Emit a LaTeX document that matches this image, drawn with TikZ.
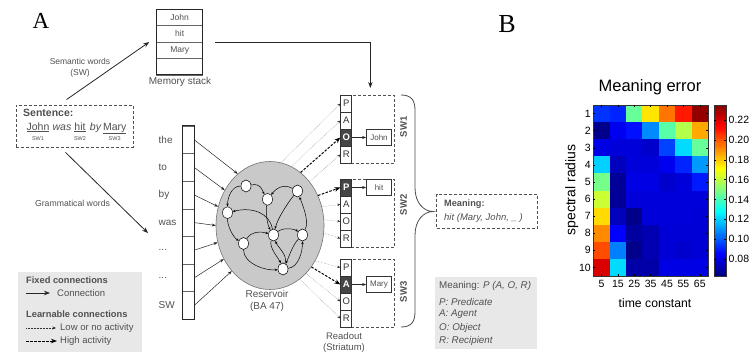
\documentclass[tikz,border=0pt]{standalone}
\usepackage{fontspec}
\setmainfont{Liberation Sans}
\newfontfamily\panelfont{Liberation Serif}
\usetikzlibrary{arrows.meta,shapes.geometric,calc}
\definecolor{txt}{HTML}{505050}
\definecolor{resfill}{HTML}{C9C9C9}
\definecolor{legbg}{HTML}{E8E8E8}
\definecolor{cellfill}{HTML}{454545}
\definecolor{lowact}{HTML}{9A9A9A}
\newcommand{\fsz}[1]{\fontsize{#1}{#1}\selectfont}
\newcommand{\setjet}[2]{%
  \pgfmathsetmacro\jetr{max(0,min(1,1.5-abs(4*(#2)-3)))}%
  \pgfmathsetmacro\jetg{max(0,min(1,1.5-abs(4*(#2)-2)))}%
  \pgfmathsetmacro\jetb{max(0,min(1,1.5-abs(4*(#2)-1)))}%
  \definecolor{#1}{rgb}{\jetr,\jetg,\jetb}}
\begin{document}
\begin{tikzpicture}[x=1pt,y=-1pt,
  lab/.style={text=txt, inner sep=0pt},
  dashbox/.style={draw=txt, line width=0.8pt, dash pattern=on 3pt off 2pt},
  conn/.style={-{Stealth[length=6pt,width=4.5pt]}, line width=0.8pt, black!85},
  thin conn/.style={-{Stealth[length=4pt,width=3pt]}, line width=0.5pt, black!85},
  inner edge/.style={-{Stealth[length=3pt,width=2.4pt]}, line width=0.5pt, black},
  low act/.style={-{Stealth[length=3.2pt,width=2.6pt,color=black!80]}, line width=0.5pt, lowact, densely dotted},
  high act/.style={-{Stealth[length=6pt,width=4.5pt]}, line width=1pt, black, dash pattern=on 2.5pt off 1.5pt},
  memcell/.style={draw=black!60, line width=0.5pt, minimum width=46pt, minimum height=16.4pt, inner sep=0pt, text=txt, font=\fsz{8.5}},
  wcell/.style={draw=black!60, line width=0.5pt, minimum width=11.7pt, minimum height=27.6pt, inner sep=0pt},
  wlab/.style={lab, anchor=west, font=\fsz{10}},
  rcell/.style={draw=black!80, line width=0.6pt, fill=white, minimum width=11pt, minimum height=17pt, inner sep=0pt, text=black!80, font=\fsz{9.5}},
  rdark/.style={rcell, fill=cellfill, text=white, font=\fsz{9.5}\bfseries},
  wbox/.style={draw=black!80, line width=0.7pt, fill=white, minimum width=25pt, minimum height=16pt, inner sep=0pt, text=txt, font=\fsz{8}},
  rnode/.style={ellipse, draw=black, line width=0.5pt, fill=white, minimum width=10pt, minimum height=12pt, inner sep=0pt},
  swlab/.style={lab, rotate=90, font=\fsz{9.5}\bfseries},
  leg/.style={lab, anchor=west, font=\fsz{9.5}},
  legr/.style={lab, anchor=west, font=\fsz{9.8}\itshape},
  hm/.style={inner sep=0pt, text=black, font=\fsz{10.5}},
]
\useasboundingbox (0,0) rectangle (751,353);

% ---------------- panel letters
\node[font=\panelfont\fsz{23}, inner sep=0pt] (pA) at (41,21) {A};
\node[font=\panelfont\fsz{26}, inner sep=0pt] (pB) at (507,24) {B};

% ---------------- legends (backgrounds)
\fill[legbg] (18,272) rectangle (142,352);
\fill[legbg] (435,277) rectangle (537,349);

% ---------------- memory stack
\node[memcell] (m1) at (179.7,17.4) {John};
\node[memcell] (m2) at (179.7,33.8) {hit};
\node[memcell] (m3) at (179.7,50.2) {Mary};
\node[memcell] (m4) at (179.7,66.6) {};
\node[draw=black!85, line width=0.9pt, minimum width=46pt, minimum height=65.6pt, inner sep=0pt] (mem) at (179.7,42) {};
\node[lab, font=\fsz{10}] (memlab) at (180,82) {Memory stack};

% ---------------- sentence
\node[dashbox, minimum width=117pt, minimum height=42pt, inner sep=0pt] (sent) at (74.5,126) {};
\node[lab, anchor=west, font=\fsz{10.5}\bfseries] (senttitle) at (23,113) {Sentence:};
\node[lab, anchor=base, font=\fsz{10.5}] (wJohn) at (38,130) {\underline{John}};
\node[lab, anchor=base, font=\fsz{10.5}\itshape] (wwas) at (62,130) {was};
\node[lab, anchor=base, font=\fsz{10.5}] (whit) at (80,130) {\underline{hit}};
\node[lab, anchor=base, font=\fsz{10.5}\itshape] (wby) at (95.5,130) {by};
\node[lab, anchor=base, font=\fsz{10.5}] (wMary) at (114.7,130) {\underline{Mary}};
\node[lab, font=\fsz{5.5}] (sw1s) at (38,138.5) {SW1};
\node[lab, font=\fsz{5.5}] (sw2s) at (80,138.5) {SW2};
\node[lab, font=\fsz{5.5}] (sw3s) at (114.7,138.5) {SW3};

% ---------------- words column
\node[wcell] (w1) at (188.15,139.8) {};
\node[wcell] (w2) at (188.15,167.4) {};
\node[wcell] (w3) at (188.15,195.0) {};
\node[wcell] (w4) at (188.15,222.6) {};
\node[wcell] (w5) at (188.15,250.2) {};
\node[wcell] (w6) at (188.15,277.8) {};
\node[wcell] (w7) at (188.15,305.4) {};
\draw[black!85, line width=0.9pt] (w1.north west) rectangle (w7.south east);
\node[wlab] (l1) at (158.5,139.8) {the};
\node[wlab] (l2) at (158.5,167.4) {to};
\node[wlab] (l3) at (158.5,195.0) {by};
\node[wlab] (l4) at (158.5,222.6) {was};
\node[wlab] (l5) at (158.5,250.2) {...};
\node[wlab] (l6) at (158.5,277.8) {...};
\node[wlab] (l7) at (158.5,305.4) {SW};

% sentence arrows
\draw[conn] ([xshift=-8pt,yshift=5pt]sent.north) -- ([xshift=-7pt]mem.west);
\node[lab, font=\fontsize{8.5}{10.5}\selectfont, align=center] (semlab) at (80,68) {Semantic words\\(SW)};
\draw[conn] ([xshift=-9pt,yshift=-5pt]sent.south) -- ([xshift=-34pt,yshift=-10.5pt]w4.west);
\node[lab, font=\fsz{8.7}] (gramlab) at (72.5,203.5) {Grammatical words};

% ---------------- reservoir
\node[ellipse, draw=black!55, line width=0.6pt, fill=resfill, minimum width=108pt, minimum height=128pt, inner sep=0pt] (res) at (270,225.5) {};
\node[lab, font=\fsz{10}] (reslab1) at (267,294) {Reservoir};
\node[lab, font=\fsz{10}] (reslab2) at (267,307) {(BA 47)};

\node[rnode] (r1) at (246,186) {};
\node[rnode] (r2) at (267.5,199.3) {};
\node[rnode] (r3) at (297.5,191) {};
\node[rnode] (r4) at (227.5,212.7) {};
\node[rnode] (r5) at (273.5,235) {};
\node[rnode] (r6) at (302.5,235) {};
\node[rnode] (r7) at (243.5,243.5) {};
\node[rnode] (r8) at (283,269) {};

\draw[inner edge] (r1) .. controls +(15,-3) and +(-6,-10) .. (r2);
\draw[inner edge] (r3) .. controls +(-15,-8) and +(8,-10) .. (r2);
\draw[inner edge] (r1) .. controls +(-15,0) and +(0,-14) .. (r4);
\draw[inner edge] (r5) .. controls +(-4,-22) and +(25,-6) .. (r4);
\draw[inner edge] (r4) .. controls +(0,14) and +(-10,-6) .. (r7);
\draw[inner edge] (r7) .. controls +(8,-12) and +(-14,-4) .. (r5);
\draw[inner edge] (r7) .. controls +(0,20) and +(-18,2) .. (r8);
\draw[inner edge] (r5) .. controls +(-5,12) and +(-4,-10) .. (r8);
\draw[inner edge] (r8) .. controls +(5,-14) and +(4,12) .. (r5);
\draw[inner edge] (r8) .. controls +(16,-2) and +(0,16) .. (r6);
\draw[inner edge] (r6) .. controls +(-10,10) and +(6,-12) .. (r8);
\draw[inner edge] (r6) .. controls +(7,-14) and +(5,14) .. (r3);
\draw[inner edge] (r3) .. controls +(-10,12) and +(4,-16) .. (r5);
\draw[inner edge] (r2) .. controls +(-2,14) and +(-6,-10) .. (r5);
\draw[inner edge] (r5) .. controls +(10,-8) and +(-8,-6) .. (r6);

% word -> reservoir arrows
\foreach \w/\a in {w1/122, w2/142, w3/160, w4/180, w5/198, w6/216, w7/230}
  \draw[thin conn] (\w.east) -- (res.\a);

% ---------------- readout
\node[dashbox, minimum width=53.3pt, minimum height=68pt, inner sep=0pt, anchor=north west] (sw1box) at (340.7,95) {};
\node[dashbox, minimum width=53.3pt, minimum height=68pt, inner sep=0pt, anchor=north west] (sw2box) at (340.7,179) {};
\node[dashbox, minimum width=53.3pt, minimum height=68pt, inner sep=0pt, anchor=north west] (sw3box) at (340.7,259) {};

\node[rcell] (c1P) at (346.2,103.5) {P};
\node[rcell] (c1A) at (346.2,120.5) {A};
\node[rdark] (c1O) at (346.2,137.5) {O};
\node[rcell] (c1R) at (346.2,154.5) {R};
\node[rdark] (c2P) at (346.2,187.5) {P};
\node[rcell] (c2A) at (346.2,204.5) {A};
\node[rcell] (c2O) at (346.2,221.5) {O};
\node[rcell] (c2R) at (346.2,238.5) {R};
\node[rcell] (c3P) at (346.2,267.5) {P};
\node[rdark] (c3A) at (346.2,284.5) {A};
\node[rcell] (c3O) at (346.2,301.5) {O};
\node[rcell] (c3R) at (346.2,318.5) {R};

\node[wbox] (wb1) at (379,137.5) {John};
\node[wbox] (wb2) at (379,187.5) {hit};
\node[wbox] (wb3) at (379,284.5) {Mary};
\draw[thin conn] (c1O.east) -- (wb1.west);
\draw[thin conn] (c2P.east) -- (wb2.west);
\draw[thin conn] (c3A.east) -- (wb3.west);

\node[swlab] (sw1l) at (403.5,127) {SW1};
\node[swlab] (sw2l) at (403.5,205) {SW2};
\node[swlab] (sw3l) at (403.5,292) {SW3};

\node[lab, font=\fsz{9.5}] (rolab1) at (344,336) {Readout};
\node[lab, font=\fsz{9.5}] (rolab2) at (344,348) {(Striatum)};

% reservoir -> readout
\foreach \c/\a in {c1P/80,c1A/70,c1R/48,c2A/20,c2O/6,c2R/352,c3P/322,c3O/307,c3R/299}
  \draw[low act] (res.\a) -- (\c.west);
\foreach \c/\a in {c1O/60,c2P/32,c3A/315}
  \draw[high act] (res.\a) -- (\c.west);

% memory -> readout
\draw[conn] ([xshift=12pt]mem.east) -| ([xshift=2.6pt,yshift=7pt]sw1box.north);

% brace
\draw[black!70, line width=0.8pt] (401,95) .. controls (411,95) and (415,100) .. (415,110) -- (415,188)
  .. controls (415,203) and (424,211.5) .. (433,211.5)
  .. controls (424,211.5) and (415,220) .. (415,235) -- (415,312)
  .. controls (415,322) and (411,327) .. (401,327);

% meaning box
\node[dashbox, minimum width=100.6pt, minimum height=34.3pt, inner sep=0pt] (mbox) at (487,211.2) {};
\node[lab, anchor=west, font=\fsz{9.2}\bfseries] (mtitle) at (444,204) {Meaning:};
\node[lab, anchor=west, font=\fsz{9.5}\itshape] (mtext) at (444,218.5) {hit (Mary, John, \_\ )};

% ---------------- legend left
\node[lab, anchor=west, font=\fsz{9.3}\bfseries] (fixl) at (26,280) {Fixed connections};
\coordinate (la1) at (26,293); \coordinate (la2) at (50,293);
\draw[conn, line width=0.7pt] (la1) -- (la2);
\node[leg] (conl) at (57,293) {Connection};
\node[lab, anchor=west, font=\fsz{9.3}\bfseries] (learnl) at (26,314) {Learnable connections};
\coordinate (lb1) at (26,328); \coordinate (lb2) at (56,328);
\draw[-{Stealth[length=3.5pt,width=3pt]}, line width=0.5pt, black!80, densely dotted] (lb1) -- (lb2);
\node[leg] (lowl) at (60,328) {Low or no activity};
\coordinate (lc1) at (26,341); \coordinate (lc2) at (57,341);
\draw[high act] (lc1) -- (lc2);
\node[leg] (highl) at (60,341) {High activity};

% ---------------- legend right
\node[lab, anchor=west, font=\fsz{9.8}] (rl1) at (439,286) {Meaning: \textit{P (A, O, R)}};
\node[legr] (rl2) at (439,301.5) {P: Predicate};
\node[legr] (rl3) at (439,314.5) {A: Agent};
\node[legr] (rl4) at (439,327.5) {O: Object};
\node[legr] (rl5) at (439,341) {R: Recipient};

% ---------------- panel B: heatmap
\foreach \rowvals [count=\i] in {
  {0.175,0.16,0.475,0.65,0.76,0.85,0.98},
  {0.01,0.11,0.14,0.26,0.46,0.55,0.71},
  {0.10,0.09,0.09,0.075,0.19,0.34,0.475},
  {0.33,0.06,0.09,0.09,0.11,0.16,0.275},
  {0.49,0.025,0.10,0.10,0.075,0.09,0.15},
  {0.575,0.025,0.09,0.09,0.09,0.09,0.09},
  {0.66,0.06,0.01,0.09,0.09,0.09,0.085},
  {0.74,0.125,0.03,0.05,0.085,0.085,0.085},
  {0.80,0.25,0.01,0.05,0.085,0.075,0.085},
  {0.91,0.34,0.04,0.04,0.10,0.10,0.10}} {
  \foreach \t [count=\j] in \rowvals {
    \setjet{cc}{\t}
    \fill[cc] ({593.3+(\j-1)*16.386},{105+(\i-1)*17.1}) rectangle ++(16.5,17.2);
  }
}
\node[draw=black!80, line width=0.6pt, minimum width=114.7pt, minimum height=171pt, inner sep=0pt, anchor=north west] (hmap) at (593.3,105) {};
\foreach \j in {1,...,7} {
  \draw[black, line width=0.4pt] ({593.3+(\j-0.5)*16.386},105) -- ++(0,2);
  \draw[black, line width=0.4pt] ({593.3+(\j-0.5)*16.386},276) -- ++(0,-2);
}
\foreach \i in {1,...,10} {
  \draw[black, line width=0.4pt] (593.3,{105+(\i-0.5)*17.1}) -- ++(2,0);
  \draw[black, line width=0.4pt] (708,{105+(\i-0.5)*17.1}) -- ++(-2,0);
}
\foreach \i in {1,...,10}
  \node[hm, anchor=east] at (591,{105+(\i-0.5)*17.1}) {\i};
\foreach \v [count=\j] in {5,15,25,35,45,55,65}
  \node[hm] at ({593.3+(\j-0.5)*16.386},283.5) {\v};
\node[hm, font=\fsz{12.2}] (xlab) at (655,303.5) {time constant};
\node[hm, font=\fsz{14}, rotate=90] (ylab) at (571.7,190) {spectral radius};
\node[hm, font=\fsz{16.5}] (title) at (650,87) {Meaning error};

% colorbar
\foreach \k in {0,...,79} {
  \setjet{cb}{(\k+0.5)/80}
  \fill[cb] (714.3,{276-(\k+1)*2.1375-0.15}) rectangle (725.7,{276-\k*2.1375});
}
\node[draw=black!80, line width=0.6pt, minimum width=11.4pt, minimum height=171pt, inner sep=0pt, anchor=north west] (cbar) at (714.3,105) {};
\foreach \v [count=\k] in {0.22,0.20,0.18,0.16,0.14,0.12,0.10,0.08} {
  \draw[black, line width=0.4pt] (714.3,{120+(\k-1)*19.857}) -- ++(2,0);
  \draw[black, line width=0.4pt] (725.7,{120+(\k-1)*19.857}) -- ++(-2,0);
  \node[hm, anchor=west] at (728.5,{120+(\k-1)*19.857}) {\v};
}
\end{tikzpicture}
\end{document}
